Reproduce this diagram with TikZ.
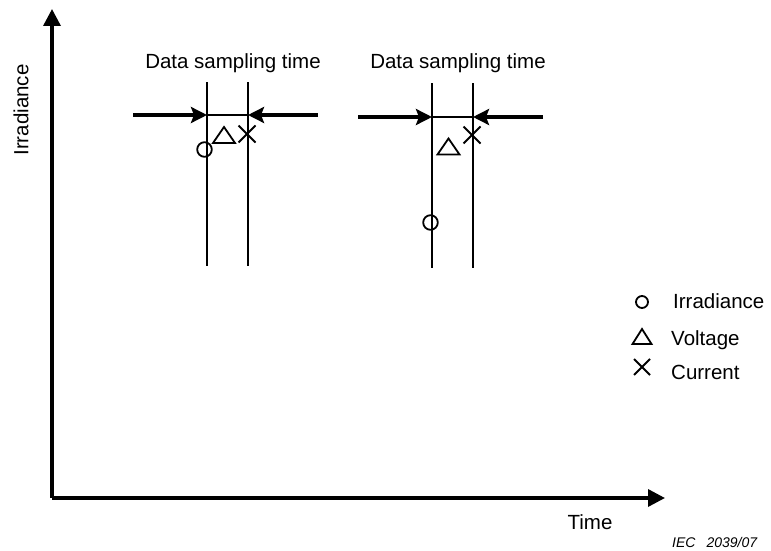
\documentclass[tikz,border=0pt]{standalone}
\usepackage{fontspec}
\setmainfont{Liberation Sans}
\usetikzlibrary{arrows.meta,calc}
\begin{document}
\begin{tikzpicture}[x=1pt,y=-1pt,
  lbl/.style={inner sep=0pt,font=\fontsize{20.5}{24}\selectfont},
  axis/.style={line width=3.4pt,-{Triangle[length=17pt,width=17pt]}},
  pointer/.style={line width=3.8pt,-{Stealth[length=16pt,width=16pt,inset=3pt]}},
  thin/.style={line width=1.6pt},
  mk/.style={line width=1.8pt},
  pt/.style={inner sep=0pt,minimum size=0pt}]
\useasboundingbox (0,0) rectangle (771,551);
% axes
\coordinate (o) at (52,498);
\coordinate (ytop) at (52,9);
\coordinate (xend) at (665,498);
\draw[axis] (o) -- (ytop);
\draw[axis] (o) -- (xend);
\node[lbl,rotate=90] (ylab) at (21,110) {Irradiance};
\node[lbl] (xlab) at (590,522) {Time};
\node[inner sep=0pt,anchor=west,font=\fontsize{14}{16}\selectfont\itshape] (iec) at (672,542) {IEC\hspace{11pt}2039/07};
% group 1
\coordinate (a1t) at (207,82);
\coordinate (a1b) at (207,266);
\coordinate (b1t) at (248,82);
\coordinate (b1b) at (248,266);
\coordinate (a1m) at (207,115);
\coordinate (b1m) at (248,115);
\coordinate (l1) at (133,115);
\coordinate (r1) at (318,115);
\draw[thin] (a1t) -- (a1b);
\draw[thin] (b1t) -- (b1b);
\draw[thin] (a1m) -- (b1m);
\draw[pointer] (l1) -- (a1m);
\draw[pointer] (r1) -- (b1m);
\node[lbl] (t1) at (233,63) {Data sampling time};
\node[pt] (c1) at (204.5,149.5) {};
\draw[mk] (c1) circle (7.3);
\node[pt] (v1) at (224,136) {};
\draw[mk] ($(v1)+(0,-9)$) -- ++(11,16) -- ++(-22,0) -- cycle;
\node[pt] (x1) at (247,134) {};
\draw[mk] ($(x1)+(-8.5,-8.5)$) -- ++(17,17) ($(x1)+(8.5,-8.5)$) -- ++(-17,17);
% group 2
\coordinate (a2t) at (432,83);
\coordinate (a2b) at (432,268);
\coordinate (b2t) at (473,83);
\coordinate (b2b) at (473,268);
\coordinate (a2m) at (432,117);
\coordinate (b2m) at (473,117);
\coordinate (l2) at (358,117);
\coordinate (r2) at (543,117);
\draw[thin] (a2t) -- (a2b);
\draw[thin] (b2t) -- (b2b);
\draw[thin] (a2m) -- (b2m);
\draw[pointer] (l2) -- (a2m);
\draw[pointer] (r2) -- (b2m);
\node[lbl] (t2) at (458,63) {Data sampling time};
\node[pt] (c2) at (430.5,222.5) {};
\draw[mk] (c2) circle (7.3);
\node[pt] (v2) at (448.5,147.5) {};
\draw[mk] ($(v2)+(0,-9)$) -- ++(11,16) -- ++(-22,0) -- cycle;
\node[pt] (x2) at (472,135) {};
\draw[mk] ($(x2)+(-8.5,-8.5)$) -- ++(17,17) ($(x2)+(8.5,-8.5)$) -- ++(-17,17);
% legend
\node[pt] (lc) at (642,302) {};
\draw[mk] (lc) circle (6);
\node[lbl,anchor=west] (lct) at (673,301) {Irradiance};
\node[pt] (lv) at (642,337) {};
\draw[mk] ($(lv)+(0,-8)$) -- ++(9.5,15) -- ++(-19,0) -- cycle;
\node[lbl,anchor=west] (lvt) at (671,340) {Voltage};
\node[pt] (lx) at (642,367) {};
\draw[mk] ($(lx)+(-8,-8)$) -- ++(16,16) ($(lx)+(8,-8)$) -- ++(-16,16);
\node[lbl,anchor=west] (lxt) at (671,372) {Current};
\end{tikzpicture}
\end{document}
